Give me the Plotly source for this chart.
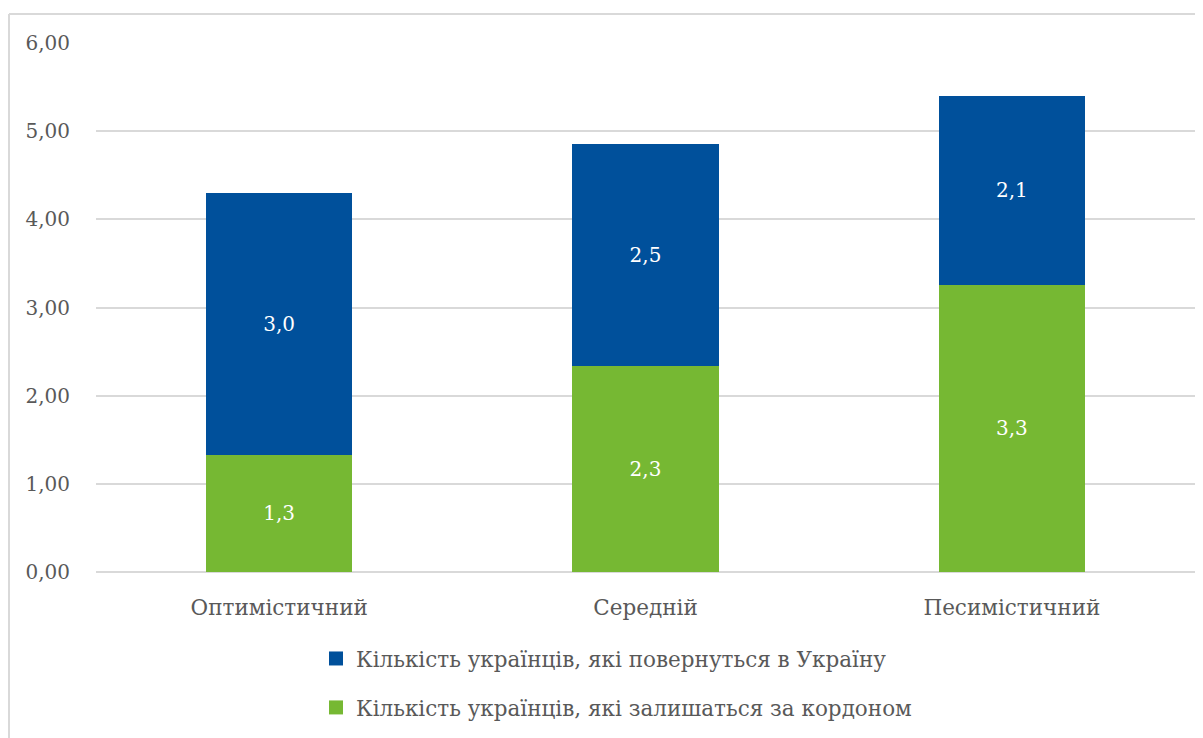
import plotly.graph_objects as go

categories = ["Оптимістичний", "Середній", "Песимістичний"]
stay_abroad = [1.33, 2.34, 3.26]
return_home = [2.97, 2.51, 2.14]
series_names = ["Кількість українців, які залишаться за кордоном",
                "Кількість українців, які повернуться в Україну"]
tick_vals = [0, 1, 2, 3, 4, 5, 6]
colors = ["#76B833", "#00509B"]

FONT = "DejaVu Serif"
GRAY = "#595959"
OFF = 8  # page body margin

fig = go.Figure()
for vals, name, col in [(stay_abroad, series_names[0], colors[0]),
                        (return_home, series_names[1], colors[1])]:
    fig.add_trace(go.Bar(x=categories, y=vals, name=name, showlegend=False,
                         marker=dict(color=col, line=dict(width=0)),
                         texttemplate="%{y:.1f}", textposition="inside",
                         insidetextanchor="middle",
                         textfont=dict(color="white", size=20, family=FONT)))

# legend entries (square swatches)
for name, col, grp in [(series_names[1], colors[1], "a"),
                       (series_names[0], colors[0], "b")]:
    fig.add_trace(go.Scatter(x=[None], y=[None], mode="markers", name=name,
                             legendgroup=grp,
                             marker=dict(symbol="square", size=14, color=col)))

W, H = 1203 - OFF, 738 - OFF
L, R, T, B = 96 - OFF, 16 - OFF, 43 - OFF, 738 - 572
pw, ph = W - L - R, H - T - B

def px(x):
    return (x - 96) / pw

def py(y):
    return (572 - y) / ph

fig.update_layout(
    width=W, height=H,
    barmode="stack", bargap=0.6,
    separators=", ",
    paper_bgcolor="white", plot_bgcolor="white",
    margin=dict(l=L, r=R, t=T, b=B, pad=0),
    font=dict(family=FONT, color=GRAY, size=20),
    xaxis=dict(showgrid=False, showline=False, ticks="",
               tickfont=dict(size=21.5, color=GRAY), ticklabelstandoff=20),
    yaxis=dict(range=[0, 6], tickvals=tick_vals, tickformat=".2f",
               showgrid=True, gridcolor="#D9D9D9", gridwidth=1.5,
               zeroline=True, zerolinecolor="#D9D9D9", zerolinewidth=1.5,
               showline=False, ticks="", ticklabelstandoff=25,
               tickfont=dict(size=20, color=GRAY)),
    legend=dict(orientation="v", traceorder="grouped",
                x=px(316), xanchor="left",
                y=py(638), yanchor="top",
                font=dict(size=21.5, color=GRAY), itemsizing="trace",
                tracegroupgap=18, itemwidth=30),
    showlegend=True,
    shapes=[
        dict(type="line", xref="paper", yref="paper",
             x0=px(9), x1=px(9), y0=py(14), y1=py(745),
             line=dict(color="#D9D9D9", width=2)),
        dict(type="line", xref="paper", yref="paper",
             x0=px(9), x1=px(1210), y0=py(14), y1=py(14),
             line=dict(color="#D9D9D9", width=2)),
    ],
)

fig.write_html("out.html")
